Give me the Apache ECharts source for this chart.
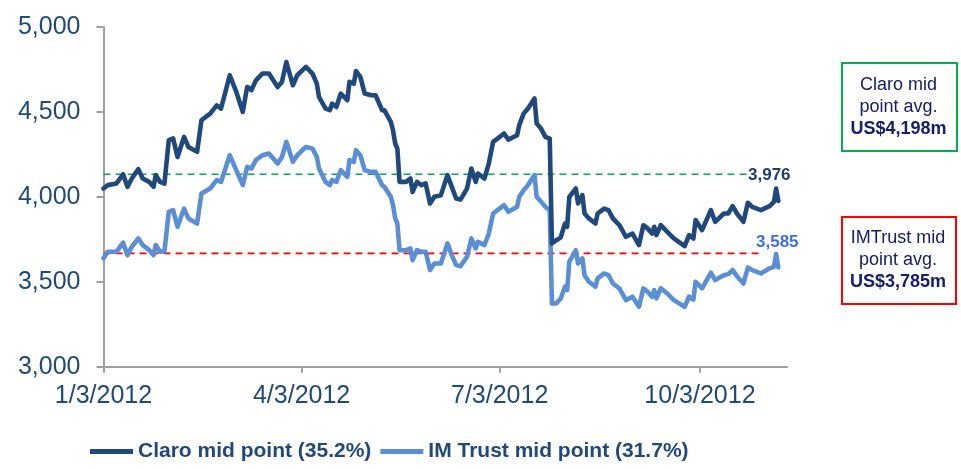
<!DOCTYPE html>
<html>
<head>
<meta charset="utf-8">
<script src="https://cdn.jsdelivr.net/npm/echarts@6/dist/echarts.min.js"></script>
<style>
html,body{margin:0;padding:0;background:#fff;}
#chart{width:961px;height:469px;}
</style>
</head>
<body>
<div id="chart"></div>
<script>
// ---- data ----
const dates = [
'2012-01-03','2012-01-05','2012-01-09','2012-01-12','2012-01-14','2012-01-16','2012-01-19','2012-01-21','2012-01-24','2012-01-26',
'2012-01-27','2012-01-29','2012-01-31','2012-02-02','2012-02-04','2012-02-06','2012-02-09','2012-02-11','2012-02-15','2012-02-17',
'2012-02-21','2012-02-24','2012-02-26','2012-03-01','2012-03-04','2012-03-07','2012-03-09','2012-03-11','2012-03-13','2012-03-16',
'2012-03-19','2012-03-23','2012-03-25','2012-03-27','2012-03-30','2012-04-01','2012-04-05','2012-04-08','2012-04-10','2012-04-11',
'2012-04-14','2012-04-16','2012-04-17','2012-04-19','2012-04-21','2012-04-24','2012-04-25','2012-04-27','2012-04-28','2012-04-30',
'2012-05-02','2012-05-05','2012-05-07','2012-05-10','2012-05-11','2012-05-14','2012-05-15','2012-05-16','2012-05-17','2012-05-18',
'2012-05-21','2012-05-23','2012-05-24','2012-05-26','2012-05-28','2012-05-30','2012-06-01','2012-06-03','2012-06-06','2012-06-09',
'2012-06-11','2012-06-13','2012-06-15','2012-06-18','2012-06-20','2012-06-22','2012-06-23','2012-06-26','2012-06-28','2012-06-30',
'2012-07-02','2012-07-05','2012-07-07','2012-07-11','2012-07-12','2012-07-14','2012-07-16','2012-07-19','2012-07-20','2012-07-22',
'2012-07-24','2012-07-26','2012-07-27','2012-07-29','2012-07-31','2012-08-02','2012-08-03','2012-08-04','2012-08-07','2012-08-08',
'2012-08-10','2012-08-11','2012-08-13','2012-08-16','2012-08-17','2012-08-20','2012-08-22','2012-08-24','2012-08-27','2012-08-30',
'2012-09-02','2012-09-05','2012-09-07','2012-09-09','2012-09-11','2012-09-12','2012-09-13','2012-09-15','2012-09-18','2012-09-21',
'2012-09-26','2012-09-28','2012-09-30','2012-10-01','2012-10-04','2012-10-08','2012-10-10','2012-10-14','2012-10-16','2012-10-18',
'2012-10-20','2012-10-23','2012-10-25','2012-10-27','2012-10-31','2012-11-04','2012-11-06','2012-11-07','2012-11-08'
];
const claro = [
4049,4069,4079,4133,4059,4108,4163,4108,4088,4059,
4128,4088,4078,4334,4344,4235,4353,4294,4265,4451,
4490,4539,4520,4716,4618,4500,4647,4628,4686,4726,
4726,4647,4677,4794,4657,4716,4765,4726,4667,4588,
4520,4510,4549,4529,4608,4569,4677,4667,4741,4706,
4608,4598,4598,4510,4510,4441,4392,4314,4284,4088,
4088,4108,4029,4088,4069,4079,3961,4000,4010,4128,
4059,3990,3984,4049,4167,4088,4137,4108,4196,4324,
4343,4373,4337,4363,4422,4490,4520,4579,4432,4402,
4353,4343,3726,3745,3760,3843,3824,4000,4049,3961,
4010,3902,3873,3843,3902,3931,3922,3873,3833,3765,
3784,3716,3833,3814,3784,3824,3775,3833,3794,3755,
3710,3775,3755,3863,3804,3922,3853,3902,3902,3945,
3902,3853,3965,3941,3922,3945,3971,4049,3976
];
const imTrust = [
3638,3677,3677,3730,3657,3706,3755,3716,3686,3657,
3716,3677,3680,3912,3922,3824,3931,3873,3843,4020,
4049,4098,4088,4245,4157,4069,4176,4167,4216,4245,
4255,4196,4235,4324,4206,4245,4294,4284,4235,4167,
4088,4069,4098,4088,4157,4118,4216,4206,4275,4245,
4157,4147,4147,4069,4059,4000,3951,3873,3843,3686,
3686,3696,3627,3686,3677,3677,3569,3608,3608,3726,
3657,3598,3592,3647,3755,3696,3735,3716,3784,3902,
3922,3951,3912,3941,4000,4039,4069,4128,4000,3971,
3941,3922,3373,3373,3400,3471,3451,3618,3686,3608,
3638,3539,3500,3471,3520,3549,3539,3490,3461,3392,
3412,3353,3461,3441,3412,3451,3402,3461,3431,3392,
3353,3412,3396,3500,3461,3553,3510,3539,3545,3569,
3533,3490,3584,3569,3549,3579,3588,3663,3585
];
const claroAvgDates = ['2012-01-03','2012-10-28'];
const claroAvgValues = [4133,4133];
const imAvgDates = ['2012-01-03','2012-10-30'];
const imAvgValues = [3667,3667];
const xTickDates = ['2012-01-03','2012-04-03','2012-07-03','2012-10-03'];
const xRange = ['2012-01-03','2012-11-12'];
const yTicks = [3000,3500,4000,4500,5000];
const seriesNames = ['Claro mid point (35.2%)','IM Trust mid point (31.7%)'];
const boxTexts = [
  ['Claro mid','point avg.','US$4,198m'],
  ['IMTrust mid','point avg.','US$3,785m']
];

// ---- helpers: dates -> day number since the first date ----
const DAY=86400000;
function utc(s){const p=s.split('-').map(Number);return Date.UTC(p[0],p[1]-1,p[2]);}
const BASE=utc(xRange[0]);
function dayNum(s){return Math.round((utc(s)-BASE)/DAY);}
function fmtDay(n){const d=new Date(BASE+Math.round(n)*DAY);return (d.getUTCMonth()+1)+'/'+d.getUTCDate()+'/'+d.getUTCFullYear();}
function fmtNum(v){return Number(v).toLocaleString('en-US');}

const NAVY='#1f497d', LIGHT='#5a8fd6', FONT='"Liberation Sans", Arial, sans-serif';

function buildSeries(vals, labelOpt){
  return vals.map(function(v,i){
    const item={value:[dayNum(dates[i]),v]};
    if(i===vals.length-1){item.label=labelOpt;}
    return item;
  });
}
const xTicks = xTickDates.map(dayNum);

const chart = echarts.init(document.getElementById('chart'), null, {renderer:'canvas'});
chart.setOption({
  animation:false,
  backgroundColor:'#fff',
  grid:{left:103.5,right:174,top:27,bottom:102.3,containLabel:false,outerBoundsMode:'none'},
  legend:{
    data:seriesNames,
    left:90, top:441, padding:0,
    icon:'rect', itemWidth:43, itemHeight:5, itemGap:9,
    textStyle:{color:NAVY,fontWeight:'bold',fontSize:21,fontFamily:FONT}
  },
  xAxis:{
    type:'value',
    min:dayNum(xRange[0]), max:dayNum(xRange[1]),
    axisLine:{show:true,lineStyle:{color:'#a0a0a0',width:2}},
    axisTick:{show:true,length:6,lineStyle:{color:'#a0a0a0',width:2},customValues:xTicks},
    axisLabel:{customValues:xTicks,formatter:fmtDay,color:NAVY,fontSize:25,fontFamily:FONT,margin:17,hideOverlap:false},
    splitLine:{show:false}
  },
  yAxis:{
    type:'value', min:yTicks[0], max:yTicks[yTicks.length-1], interval:500,
    axisLine:{show:true,lineStyle:{color:'#a0a0a0',width:2}},
    axisTick:{show:true,length:7,lineStyle:{color:'#a0a0a0',width:2}},
    axisLabel:{formatter:fmtNum,color:NAVY,fontSize:25,fontFamily:FONT,margin:23},
    splitLine:{show:false}
  },
  series:[
    {
      name:'claroAvg', type:'line', silent:true, symbol:'none',
      data:claroAvgDates.map(function(d,i){return [dayNum(d),claroAvgValues[i]];}),
      lineStyle:{color:'#00b050',width:1.6,type:[7,5]}, z:1
    },
    {
      name:'imAvg', type:'line', silent:true, symbol:'none',
      data:imAvgDates.map(function(d,i){return [dayNum(d),imAvgValues[i]];}),
      lineStyle:{color:'#ff0000',width:1.6,type:[7,5]}, z:1
    },
    {
      name:seriesNames[0], type:'line', showSymbol:true, showAllSymbol:true, symbol:'circle', symbolSize:0, color:NAVY,
      lineStyle:{color:NAVY,width:4.6,join:'round',cap:'round'},
      label:{show:false},
      data:buildSeries(claro,{show:true,position:'top',offset:[-9,-12],formatter:function(p){return fmtNum(p.value[1]);},color:'#1f3f6e',fontWeight:'bold',fontSize:17,fontFamily:FONT}),
      z:3
    },
    {
      name:seriesNames[1], type:'line', showSymbol:true, showAllSymbol:true, symbol:'circle', symbolSize:0, color:LIGHT,
      lineStyle:{color:LIGHT,width:4.6,join:'round',cap:'round'},
      label:{show:false},
      data:buildSeries(imTrust,{show:true,position:'top',offset:[-1,-12],formatter:function(p){return fmtNum(p.value[1]);},color:'#3d6fe6',fontWeight:'bold',fontSize:17,fontFamily:FONT}),
      z:2
    }
  ],
  graphic:[
    {type:'rect',left:841,top:62,shape:{width:115,height:88},style:{fill:'#fff',stroke:'#00b050',lineWidth:2}},
    {type:'text',x:898.5,y:107,style:{
      text:boxTexts[0][0]+'\n'+boxTexts[0][1]+'\n{b|'+boxTexts[0][2]+'}',
      align:'center',verticalAlign:'middle',fill:'#14206e',font:'18px '+FONT,lineHeight:22,
      rich:{b:{fontWeight:'bold',fontSize:18,fontFamily:FONT,fill:'#14206e',lineHeight:22}}
    }},
    {type:'rect',left:841,top:216,shape:{width:114,height:87},style:{fill:'#fff',stroke:'#ff0000',lineWidth:2}},
    {type:'text',x:898,y:260,style:{
      text:boxTexts[1][0]+'\n'+boxTexts[1][1]+'\n{b|'+boxTexts[1][2]+'}',
      align:'center',verticalAlign:'middle',fill:'#14206e',font:'18px '+FONT,lineHeight:22,
      rich:{b:{fontWeight:'bold',fontSize:18,fontFamily:FONT,fill:'#14206e',lineHeight:22}}
    }}
  ]
});
</script>
</body>
</html>
